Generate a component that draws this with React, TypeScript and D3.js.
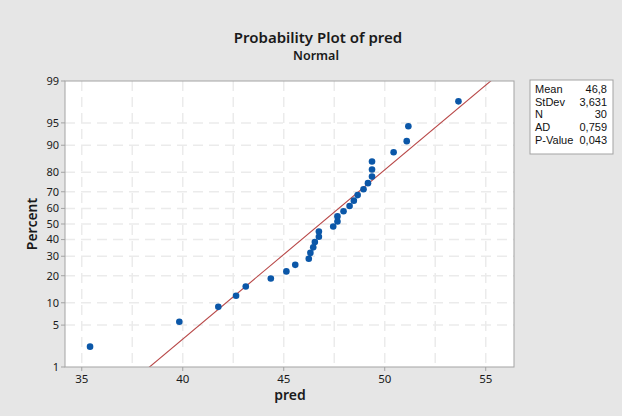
import React, { useEffect, useRef } from 'react';
import * as d3 from 'd3';

// sorted values of pred
const predValues = [
  35.41, 39.83, 41.76, 42.64, 43.12, 44.36, 45.13, 45.57, 46.24, 46.32,
  46.46, 46.54, 46.74, 46.74, 47.45, 47.66, 47.66, 47.96, 48.26, 48.47,
  48.66, 48.95, 49.17, 49.37, 49.37, 49.37, 50.44, 51.09, 51.17, 53.65,
];
const percentTicks = [1, 5, 10, 20, 30, 40, 50, 60, 70, 80, 90, 95, 99];
const xTicks = [35, 40, 45, 50, 55];
const xGrid = [35, 37.5, 40, 42.5, 45, 47.5, 50, 52.5, 55];
const statLabels = ['Mean', 'StDev', 'N', 'AD', 'P-Value'];
const statValues = ['46,8', '3,631', '30', '0,759', '0,043'];
const mean = 46.8;
const stdev = 3.631;

// inverse standard normal cdf (Acklam)
function qnorm(p: number): number {
  const a = [-39.69683028665376, 220.9460984245205, -275.9285104469687, 138.357751867269, -30.66479806614716, 2.506628277459239];
  const b = [-54.47609879822406, 161.5858368580409, -155.6989798598866, 66.80131188771972, -13.28068155288572];
  const c = [-0.007784894002430293, -0.3223964580411365, -2.400758277161838, -2.549732539343734, 4.374664141464968, 2.938163982698783];
  const d = [0.007784695709041462, 0.3224671290700398, 2.445134137142996, 3.754408661907416];
  const pl = 0.02425;
  if (p < pl) {
    const q = Math.sqrt(-2 * Math.log(p));
    return (((((c[0] * q + c[1]) * q + c[2]) * q + c[3]) * q + c[4]) * q + c[5]) / ((((d[0] * q + d[1]) * q + d[2]) * q + d[3]) * q + 1);
  }
  if (p > 1 - pl) {
    const q = Math.sqrt(-2 * Math.log(1 - p));
    return -(((((c[0] * q + c[1]) * q + c[2]) * q + c[3]) * q + c[4]) * q + c[5]) / ((((d[0] * q + d[1]) * q + d[2]) * q + d[3]) * q + 1);
  }
  const q = p - 0.5;
  const r = q * q;
  return (((((a[0] * r + a[1]) * r + a[2]) * r + a[3]) * r + a[4]) * r + a[5]) * q / (((((b[0] * r + b[1]) * r + b[2]) * r + b[3]) * r + b[4]) * r + 1);
}

const W = 622;
const H = 416;
const FONT = '"Noto Sans", "Open Sans", sans-serif';
const BOX_FONT = '"Liberation Sans", Arial, sans-serif';

const App: React.FC = () => {
  const svgRef = useRef<SVGSVGElement>(null);

  useEffect(() => {
    if (!svgRef.current) return;
    const svg = d3.select(svgRef.current);
    svg.selectAll('*').remove();

    const left = 65, right = 514, top = 81, bottom = 367;

    const x = d3.scaleLinear().domain([34.17, 56.4]).range([left, right]);
    const z = d3.scaleLinear().domain([qnorm(0.01), qnorm(0.99)]).range([bottom, top]);
    const y = (pct: number) => z(qnorm(pct / 100));

    svg.append('rect').attr('width', W).attr('height', H).attr('fill', '#e6e6e6');

    svg.append('rect')
      .attr('x', left).attr('y', top)
      .attr('width', right - left).attr('height', bottom - top)
      .attr('fill', '#ffffff');

    const clip = svg.append('clipPath').attr('id', 'plotclip');
    clip.append('rect').attr('x', left).attr('y', top).attr('width', right - left).attr('height', bottom - top);

    const grid = svg.append('g').attr('stroke', '#ebebeb').attr('stroke-width', 1.5).attr('stroke-dasharray', '10,6');
    grid.selectAll('.vg').data(xGrid).enter().append('line')
      .attr('x1', d => x(d)).attr('x2', d => x(d))
      .attr('y1', top).attr('y2', bottom);
    grid.selectAll('.hg').data(percentTicks.slice(1, -1)).enter().append('line')
      .attr('x1', left).attr('x2', right)
      .attr('y1', d => y(d)).attr('y2', d => y(d));

    // fitted line
    const zLo = qnorm(0.005), zHi = qnorm(0.995);
    svg.append('line')
      .attr('clip-path', 'url(#plotclip)')
      .attr('x1', x(mean + zLo * stdev)).attr('y1', z(zLo))
      .attr('x2', x(mean + zHi * stdev)).attr('y2', z(zHi))
      .attr('stroke', '#b84848').attr('stroke-width', 1.1);

    // points, median-rank plotting positions
    const n = predValues.length;
    svg.append('g').selectAll('circle')
      .data(predValues).enter().append('circle')
      .attr('cx', d => x(d))
      .attr('cy', (d, i) => z(qnorm((i + 1 - 0.3) / (n + 0.4))))
      .attr('r', 3.3)
      .attr('fill', '#0b57a8');

    // frame
    svg.append('rect')
      .attr('x', left).attr('y', top)
      .attr('width', right - left).attr('height', bottom - top)
      .attr('fill', 'none').attr('stroke', '#a3a3a3').attr('stroke-width', 1);

    // y ticks
    const yt = svg.append('g');
    yt.selectAll('line').data(percentTicks).enter().append('line')
      .attr('x1', left - 4).attr('x2', left)
      .attr('y1', d => y(d)).attr('y2', d => y(d))
      .attr('stroke', '#a3a3a3');
    yt.selectAll('text').data(percentTicks).enter().append('text')
      .attr('x', left - 6).attr('y', d => y(d)).attr('dy', '0.35em')
      .attr('text-anchor', 'end')
      .style('font-family', FONT).style('font-size', '11px').attr('fill', '#1a1a1a')
      .text(d => d);

    // x ticks
    const xt = svg.append('g');
    xt.selectAll('line').data(xTicks).enter().append('line')
      .attr('x1', d => x(d)).attr('x2', d => x(d))
      .attr('y1', bottom).attr('y2', bottom + 4)
      .attr('stroke', '#a3a3a3');
    xt.selectAll('text').data(xTicks).enter().append('text')
      .attr('x', d => x(d)).attr('y', 383)
      .attr('text-anchor', 'middle')
      .style('font-family', FONT).style('font-size', '11.5px').attr('fill', '#1a1a1a')
      .text(d => d);

    // titles
    svg.append('text').attr('x', 318).attr('y', 43).attr('text-anchor', 'middle')
      .style('font-family', FONT).style('font-size', '15px').style('font-weight', '600').attr('fill', '#1a1a1a')
      .text('Probability Plot of pred');
    svg.append('text').attr('x', 316).attr('y', 60).attr('text-anchor', 'middle')
      .style('font-family', FONT).style('font-size', '12.5px').style('font-weight', '600').attr('fill', '#1a1a1a')
      .text('Normal');
    svg.append('text').attr('x', 290).attr('y', 400).attr('text-anchor', 'middle')
      .style('font-family', FONT).style('font-size', '14px').style('font-weight', '600').attr('fill', '#1a1a1a')
      .text('pred');
    svg.append('text')
      .attr('transform', `translate(37,${(top + bottom) / 2}) rotate(-90)`)
      .attr('text-anchor', 'middle')
      .style('font-family', FONT).style('font-size', '14px').style('font-weight', '600').attr('fill', '#1a1a1a')
      .text('Percent');

    // stats box
    const box = svg.append('g');
    box.append('rect').attr('x', 530).attr('y', 80).attr('width', 83).attr('height', 74)
      .attr('fill', '#ffffff').attr('stroke', '#a3a3a3');
    box.selectAll('.sl').data(statLabels).enter().append('text')
      .attr('x', 535).attr('y', (d, i) => 93 + i * 12.7)
      .style('font-family', BOX_FONT).style('font-size', '11px').attr('fill', '#111')
      .text(d => d);
    box.selectAll('.sv').data(statValues).enter().append('text')
      .attr('x', 607).attr('y', (d, i) => 93 + i * 12.7)
      .attr('text-anchor', 'end')
      .style('font-family', BOX_FONT).style('font-size', '11px').attr('fill', '#111')
      .text(d => d);
  }, []);

  return (
    <svg ref={svgRef} width={W} height={H} style={{ position: 'absolute', left: 0, top: 0 }} />
  );
};

export default App;
